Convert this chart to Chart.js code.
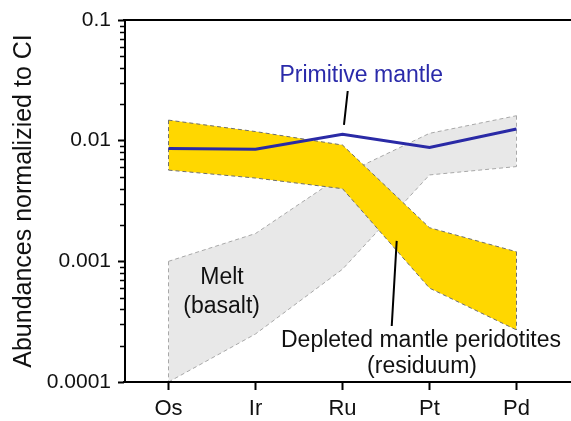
<!DOCTYPE html>
<html>
<head>
<meta charset="utf-8">
<script src="https://cdn.jsdelivr.net/npm/chart.js@4.4.1/dist/chart.umd.min.js"></script>
<style>
  html, body { margin: 0; padding: 0; background: #fff; overflow: hidden; }
  #chart { display: block; }
</style>
</head>
<body>
<canvas id="chart" width="571" height="421"></canvas>
<script>
const elements = ['Os', 'Ir', 'Ru', 'Pt', 'Pd'];

// CI-normalized abundances
const primitiveMantle = [0.0086, 0.0085, 0.0113, 0.0088, 0.0125];
const residueUpper = [0.0148, 0.0119, 0.0092, 0.0019, 0.0012];
const residueLower = [0.0057, 0.0049, 0.0040, 0.0006, 0.00027];
const meltUpper = [0.0010, 0.0017, 0.0052, 0.0115, 0.0161];
const meltLower = [0.0001, 0.00025, 0.00086, 0.0052, 0.0061];

const yDecades = [0.0001, 0.001, 0.01, 0.1];
const yDecadeLabels = ['0.0001', '0.001', '0.01', '0.1'];
const yMinorSteps = [2, 3, 4, 5, 6, 7, 8, 9];

// labels placed in data units: [text, category index, value, colour]
const notes = [
  ['Primitive mantle', 2.216, 0.0306, '#2a2aaa'],
  ['Melt', 0.615, 0.000646, '#111'],
  ['(basalt)', 0.611, 0.000371, '#111'],
  ['Depleted mantle peridotites', 2.902, 0.000196, '#111'],
  ['(residuum)', 2.914, 0.000119, '#111']
];
// leader lines: [x1, y1, x2, y2] in data units
const leaders = [
  [2.06, 0.0258, 2.017, 0.0135],
  [2.623, 0.001476, 2.566, 0.000291]
];

const FONT = "'Liberation Sans', Arial, sans-serif";

const isDecade = v => yDecades.some(d => Math.abs(v - d) / d < 1e-6);

// dashed closing edges for the two envelopes (upper index -> lower index)
const bands = [
  { upper: 3, lower: 4, color: '#a8a8a8' },
  { upper: 1, lower: 2, color: '#6e6e6e' }
];

const extras = {
  id: 'extras',
  afterDatasetDraw(chart, args) {
    const band = bands.find(b => b.lower === args.index);
    if (!band) return;
    const up = chart.getDatasetMeta(band.upper).data;
    const lo = args.meta.data;
    const ctx = chart.ctx;
    ctx.save();
    ctx.strokeStyle = band.color;
    ctx.lineWidth = 1;
    ctx.setLineDash([4, 3]);
    ctx.beginPath();
    for (const i of [0, lo.length - 1]) {
      ctx.moveTo(up[i].x, up[i].y);
      ctx.lineTo(lo[i].x, lo[i].y);
    }
    ctx.stroke();
    ctx.restore();
  },
  afterDraw(chart) {
    const { ctx, chartArea: a, scales: { x, y } } = chart;
    ctx.save();
    ctx.strokeStyle = '#000';
    ctx.lineWidth = 2;
    ctx.beginPath();
    ctx.moveTo(a.left - 2, a.top);
    ctx.lineTo(chart.width, a.top);
    ctx.moveTo(a.left - 2, a.bottom);
    ctx.lineTo(chart.width, a.bottom);
    ctx.stroke();

    // short minor ticks on the log axis
    ctx.lineWidth = 1.5;
    ctx.beginPath();
    yDecades.slice(0, -1).forEach(d => {
      yMinorSteps.forEach(m => {
        const py = Math.round(y.getPixelForValue(d * m)) + 0.5;
        ctx.moveTo(a.left - 5, py);
        ctx.lineTo(a.left, py);
      });
    });
    ctx.stroke();

    ctx.lineWidth = 2;
    ctx.beginPath();
    leaders.forEach(([x1, y1, x2, y2]) => {
      ctx.moveTo(x.getPixelForValue(x1), y.getPixelForValue(y1));
      ctx.lineTo(x.getPixelForValue(x2), y.getPixelForValue(y2));
    });
    ctx.stroke();

    ctx.font = '23px ' + FONT;
    ctx.textAlign = 'center';
    ctx.textBaseline = 'alphabetic';
    notes.forEach(([text, xi, v, color]) => {
      ctx.fillStyle = color;
      ctx.fillText(text, x.getPixelForValue(xi), y.getPixelForValue(v));
    });
    ctx.restore();
  }
};

const bandLine = (data, color, fill, order) => ({
  data, fill, order,
  borderColor: color,
  borderWidth: 1,
  borderDash: [4, 3],
  pointRadius: 0,
  tension: 0
});

new Chart(document.getElementById('chart'), {
  type: 'line',
  data: {
    labels: elements,
    datasets: [
      { data: primitiveMantle, borderColor: '#2a2aa6', borderWidth: 3, pointRadius: 0, fill: false, order: 1 },
      Object.assign(bandLine(residueUpper, '#6e6e6e', '+1', 3), { backgroundColor: '#ffd700' }),
      bandLine(residueLower, '#6e6e6e', false, 2),
      Object.assign(bandLine(meltUpper, '#a8a8a8', '+1', 5), { backgroundColor: '#e8e8e8' }),
      bandLine(meltLower, '#a8a8a8', false, 4)
    ]
  },
  options: {
    responsive: false,
    animation: false,
    devicePixelRatio: 1,
    layout: { padding: { top: 20, right: 11, left: 0, bottom: 0 } },
    plugins: { legend: { display: false }, tooltip: { enabled: false } },
    scales: {
      x: {
        offset: true,
        grid: { drawOnChartArea: false, tickLength: 8, tickWidth: 2, tickColor: '#000', offset: false },
        border: { display: false },
        ticks: { color: '#111', padding: 6, font: { family: FONT, size: 22 } },
        afterFit: s => { s.height = 39; }
      },
      y: {
        type: 'logarithmic',
        min: 0.0001,
        max: 0.1,
        afterBuildTicks: s => {
          const t = [];
          yDecades.forEach((d, i) => {
            t.push({ value: d });
            if (i < yDecades.length - 1) yMinorSteps.forEach(m => t.push({ value: d * m }));
          });
          s.ticks = t;
        },
        grid: {
          drawOnChartArea: false,
          tickLength: 7,
          tickWidth: 2,
          tickColor: c => (c.tick && isDecade(c.tick.value)) ? '#000' : 'rgba(0,0,0,0)'
        },
        border: { display: true, color: '#000', width: 2 },
        ticks: {
          autoSkip: false,
          color: '#111',
          padding: 7,
          font: { family: FONT, size: 21 },
          callback: v => {
            const i = yDecades.findIndex(d => Math.abs(v - d) / d < 1e-6);
            return i >= 0 ? yDecadeLabels[i] : '';
          }
        },
        title: {
          display: true,
          text: 'Abundances normalizied to CI',
          color: '#111',
          padding: { top: 9, bottom: 0 },
          font: { family: FONT, size: 25 }
        },
        afterFit: s => { s.width = 125; }
      }
    }
  },
  plugins: [extras]
});
</script>
</body>
</html>
